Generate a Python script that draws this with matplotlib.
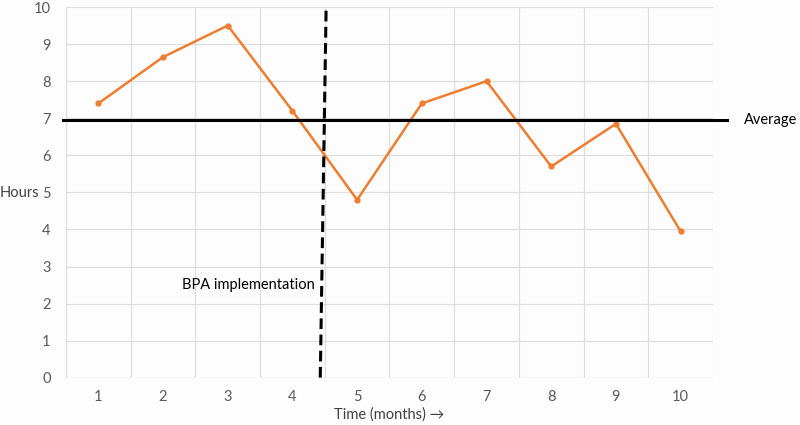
import matplotlib
matplotlib.use("Agg")
import matplotlib.pyplot as plt

months = [1, 2, 3, 4, 5, 6, 7, 8, 9, 10]
hours = [7.4, 8.65, 9.5, 7.2, 4.8, 7.4, 8.0, 5.7, 6.85, 3.95]
average = 6.95
bpa_x = [4.52, 4.43]
bpa_y = [9.9, 0]

plt.rcParams['font.family'] = ['Lato', 'DejaVu Sans']

fig = plt.figure(figsize=(8, 4.25), dpi=100)
fig.patch.set_facecolor('#fdfdfd')
ax = fig.add_axes([0.0825, 0.111, 0.8087, 0.8725])
ax.set_facecolor('#fdfdfd')

ax.plot(months, hours, color='#ed7d31', lw=1.8, marker='o', ms=3.5, zorder=3)

# average line runs past the plot area
ax.plot([0.45, 10.72], [average, average], color='black', lw=2.2, clip_on=False, zorder=4)
ax.text(10.98, average, 'Average', fontsize=10.5, va='center', ha='left')

ax.plot(bpa_x, bpa_y, color='black', lw=2.2, ls=(0, (3.5, 1.8)), zorder=4)
ax.text(4.34, 2.5, 'BPA implementation', fontsize=10.5, va='center', ha='right')

ax.set_xlim(0.5, 10.5)
ax.set_ylim(0, 10)
ax.set_xticks(months)
ax.set_yticks(range(0, 11))
ax.set_xticks([m + 0.5 for m in range(0, 11)], minor=True)
ax.grid(True, axis='y', color='#dedede', lw=0.9)
ax.grid(True, axis='x', which='minor', color='#dedede', lw=0.9)
ax.tick_params(axis='both', which='both', length=0, colors='#595959', labelsize=10.5)
ax.tick_params(axis='x', pad=9)
ax.tick_params(axis='y', pad=11)
for s in ax.spines.values():
    s.set_visible(False)

fig.text(0.024, 0.545, 'Hours', fontsize=10.5, color='#404040', ha='center', va='center')
ax.set_xlabel('Time (months) \u2192', fontsize=10.5, color='#404040', labelpad=2)

fig.savefig('out.png', dpi=100, facecolor=fig.get_facecolor())
